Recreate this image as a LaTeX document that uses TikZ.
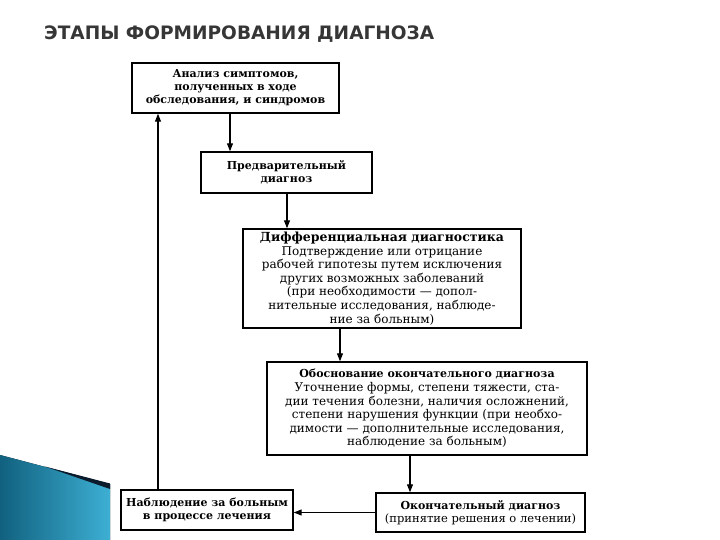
\documentclass[tikz,border=0pt]{standalone}
\usepackage{fontspec}
\setmainfont{DejaVu Serif}
\newfontfamily\titlefont{DejaVu Sans}
\usetikzlibrary{arrows.meta}
\definecolor{titlegray}{HTML}{363636}
\definecolor{tealdark}{HTML}{11617F}
\definecolor{teallight}{HTML}{3DAFD3}
\definecolor{navyband}{HTML}{0B1B2B}
\tikzset{
  box/.style={draw=black, line width=1.4pt, fill=white, align=center, inner sep=2pt,
              font=\bfseries\fontsize{11}{13}\selectfont},
  bigbox/.style={box, font=\fontsize{12}{13.6}\selectfont},
  arr/.style={line width=1.1pt, -{Triangle[length=8pt,width=6pt]}}
}
\begin{document}
\begin{tikzpicture}[x=1pt,y=-1pt]
\useasboundingbox (0,0) rectangle (720,540);
% decoration
\fill[left color=tealdark,right color=teallight] (0,455) -- (110,484) -- (110,540) -- (0,540) -- cycle;
\fill[navyband] (45,466.5) -- (110,483.5) -- (110,489) -- cycle;
% title
\node[anchor=base west, inner sep=0pt, text=titlegray, font=\titlefont\bfseries\fontsize{18.5}{20}\selectfont]
  (title) at (44,40) {\resizebox{390pt}{\height}{ЭТАПЫ ФОРМИРОВАНИЯ ДИАГНОЗА}};
% boxes
\node[box, minimum width=207pt, minimum height=50pt] (b1) at (235.5,88)
  {Анализ симптомов,\\полученных в ходе\\обследования, и синдромов};
\node[box, minimum width=171pt, minimum height=41pt] (b2) at (286.5,172.5)
  {Предварительный\\диагноз};
\node[bigbox, minimum width=278pt, minimum height=99pt] (b3) at (382,278.5)
  {{\bfseries\fontsize{12.5}{13.6}\selectfont Дифференциальная диагностика}\\Подтверждение или отрицание\\рабочей гипотезы путем исключения\\других возможных заболеваний\\(при необходимости — допол-\\нительные исследования, наблюде-\\ние за больным)};
\node[bigbox, minimum width=320pt, minimum height=93pt] (b4) at (427,408.5)
  {{\bfseries\fontsize{11}{13.6}\selectfont Обоснование окончательного диагноза}\\Уточнение формы, степени тяжести, ста-\\дии течения болезни, наличия осложнений,\\степени нарушения функции (при необхо-\\димости — дополнительные исследования,\\наблюдение за больным)};
\node[box, minimum width=172pt, minimum height=40pt] (b5) at (207,510)
  {Наблюдение за больным\\в процессе лечения};
\node[box, minimum width=209pt, minimum height=39pt] (b6) at (480.5,512.5)
  {Окончательный диагноз\\{\mdseries\fontsize{11.5}{13}\selectfont (принятие решения о лечении)}};
% connector x positions
\coordinate (x1) at (230,0);
\coordinate (x2) at (287,0);
\coordinate (x3) at (340,0);
\coordinate (x4) at (410,0);
\coordinate (x5) at (158,0);
\draw[arr] (b1.south -| x1) -- (b2.north -| x1);
\draw[arr] (b2.south -| x2) -- (b3.north -| x2);
\draw[arr] (b3.south -| x3) -- (b4.north -| x3);
\draw[arr] (b4.south -| x4) -- (b6.north -| x4);
\draw[arr] (b6.west) -- (b6.west -| b5.east);
\draw[arr] (b5.north -| x5) -- (b1.south -| x5);
\end{tikzpicture}
\end{document}
